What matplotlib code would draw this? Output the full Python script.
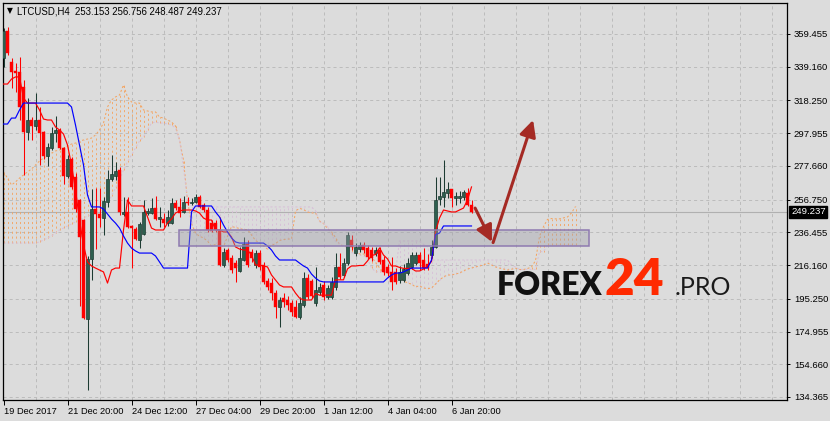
import matplotlib
matplotlib.use("Agg")
import matplotlib.pyplot as plt
import numpy as np
from matplotlib.patches import Rectangle

plt.rcParams['font.family'] = ['Liberation Sans', 'DejaVu Sans']
plt.rcParams['lines.scale_dashes'] = False

# ---------------- data ----------------
symbol = "LTCUSD,H4"
opens = [344.5, 361.3, 342.1, 336.5, 335.9, 326.6, 298.7, 306.1, 302.4, 306.1,
         298.7, 283.8, 288.7, 298.0, 299.9, 288.7, 271.4, 281.9, 270.8, 256.5,
         244.1, 182.7, 219.9, 250.9, 247.8, 245.3, 255.3, 269.5, 271.4, 275.1,
         247.8, 249.1, 240.4, 238.5, 231.7, 235.4, 248.4, 248.4, 251.5, 244.7,
         244.7, 242.2, 242.2, 254.6, 252.2, 249.1, 255.3, 254.6, 255.3, 258.4,
         253.4, 250.3, 242.2, 242.2, 237.9, 216.2, 225.5, 220.5, 217.4, 212.5,
         219.3, 229.2, 224.3, 216.2, 223.6, 216.2, 206.3, 205.0, 198.8, 190.2,
         195.7, 194.5, 192.6, 190.2, 184.0, 191.4, 208.1, 206.3, 192.6, 199.5,
         203.8, 196.4, 196.4, 202.6, 215.0, 210.0, 217.4, 231.7, 223.6, 226.1,
         228.6, 226.7, 225.5, 223.6, 225.5, 219.3, 215.0, 211.9, 211.9, 206.9,
         206.9, 211.2, 215.0, 217.4, 222.4, 219.0, 217.0, 222.4, 227.4, 257.1,
         258.4, 260.8, 263.3, 257.7, 257.7, 258.4, 260.8, 253.153]
highs = [363.1, 363.8, 344.5, 341.4, 345.2, 330.9, 319.7, 307.9, 322.8, 314.2,
         299.3, 291.8, 301.8, 308.6, 301.1, 289.4, 284.4, 283.2, 273.2, 257.0,
         245.0, 222.0, 263.3, 263.9, 263.9, 258.4, 275.1, 284.4, 280.1, 277.0,
         258.4, 258.4, 241.0, 239.8, 242.9, 256.5, 251.5, 257.7, 259.0, 252.2,
         248.4, 250.3, 257.7, 256.5, 257.7, 259.0, 258.4, 257.7, 260.2, 259.6,
         254.6, 252.2, 244.1, 244.1, 246.0, 226.7, 226.7, 222.4, 219.3, 227.4,
         233.6, 231.7, 226.1, 225.5, 225.5, 218.1, 208.1, 208.1, 200.7, 196.4,
         198.8, 197.0, 194.5, 194.5, 196.4, 211.9, 210.6, 207.5, 215.0, 205.0,
         206.3, 203.8, 208.7, 223.6, 223.6, 220.5, 236.7, 234.8, 229.8, 230.5,
         230.5, 228.6, 227.4, 227.4, 227.4, 221.8, 216.8, 221.2, 214.3, 215.6,
         216.8, 220.5, 224.3, 224.3, 224.3, 226.7, 223.2, 231.7, 270.8, 270.8,
         281.3, 267.7, 263.3, 261.5, 262.1, 262.7, 263.9, 256.756]
lows = [339.0, 346.4, 325.9, 323.5, 306.1, 272.0, 293.7, 293.7, 300.0, 278.2,
        282.0, 277.6, 287.5, 292.5, 288.0, 266.4, 270.0, 263.3, 249.0, 190.8,
        183.0, 138.7, 206.9, 226.1, 239.8, 234.8, 252.2, 268.3, 269.0, 247.2,
        246.6, 239.1, 214.3, 231.7, 226.7, 234.8, 247.2, 248.0, 244.1, 239.8,
        239.8, 240.4, 241.6, 250.3, 246.0, 248.4, 253.4, 253.4, 254.6, 251.5,
        249.1, 236.7, 236.7, 236.7, 215.6, 215.0, 218.1, 211.2, 205.7, 211.9,
        218.7, 215.0, 218.1, 214.3, 213.1, 204.4, 200.7, 194.5, 183.3, 177.8,
        190.2, 188.3, 184.6, 183.3, 182.7, 190.2, 195.1, 195.7, 190.8, 197.6,
        194.5, 195.1, 195.1, 200.7, 207.5, 208.7, 216.2, 225.5, 221.8, 224.3,
        223.6, 219.9, 218.7, 221.8, 216.8, 210.0, 209.4, 200.7, 204.4, 205.0,
        205.7, 210.0, 213.7, 216.2, 213.1, 213.1, 213.1, 220.5, 226.7, 253.4,
        252.2, 257.7, 252.2, 253.4, 254.6, 256.5, 252.8, 248.487]
closes = [361.3, 347.6, 335.9, 335.2, 314.2, 298.7, 306.1, 302.4, 306.1, 298.0,
          283.8, 289.4, 298.0, 299.9, 288.7, 271.4, 281.9, 264.6, 250.9, 233.6,
          183.3, 219.9, 250.9, 247.8, 245.3, 255.9, 269.5, 272.6, 274.5, 249.1,
          249.1, 239.8, 239.1, 232.3, 241.6, 249.1, 249.7, 251.5, 244.7, 246.0,
          242.2, 246.0, 254.6, 251.5, 248.4, 255.3, 254.6, 255.3, 258.4, 252.2,
          250.3, 237.9, 237.3, 237.9, 216.2, 224.3, 219.3, 213.1, 214.3, 220.5,
          229.2, 216.2, 220.5, 223.6, 215.0, 205.7, 202.6, 198.8, 190.2, 194.5,
          193.3, 191.4, 187.1, 184.0, 192.6, 208.1, 196.4, 197.0, 200.7, 202.6,
          196.4, 201.9, 205.7, 215.0, 208.7, 217.4, 234.8, 227.4, 227.4, 228.6,
          225.5, 221.2, 220.5, 225.5, 218.1, 211.9, 211.2, 205.7, 205.7, 211.9,
          213.7, 217.4, 222.4, 222.4, 217.4, 214.3, 214.3, 227.4, 256.5, 259.0,
          261.5, 263.3, 257.7, 259.0, 259.0, 261.5, 253.4, 249.237]

tenkan = [328.4, 328.4, 331.5, 332.8, 332.8, 319.7, 316.6, 316.6, 316.6, 312.3,
          306.7, 306.1, 306.1, 301.8, 299.9, 297.4, 290.6, 278.2, 262.7, 244.1,
          228.6, 218.1, 215.6, 214.3, 213.1, 211.9, 205.0, 213.1, 214.3, 214.3,
          237.9, 256.5, 252.8, 252.8, 252.8, 252.8, 246.0, 239.1, 237.9, 237.9,
          237.9, 242.2, 244.7, 248.4, 249.7, 250.3, 250.3, 250.3, 249.7, 248.4,
          245.3, 244.1, 244.1, 237.9, 237.9, 236.7, 236.7,
          233.6, 227.4, 226.1, 225.5, 225.5, 222.4, 216.2, 216.2, 215.6, 215.0,
          210.0, 206.9, 203.8, 202.6, 202.6, 202.6, 198.8, 195.7,
          194.5, 194.5, 194.5, 198.5, 197.5, 197.5, 197.5, 197.5, 207.0, 207.0,
          207.0, 213.8, 215.6, 215.6, 215.9, 215.9, 218.7, 222.1, 222.7, 226.8,
          222.4, 220.0, 215.6, 215.6, 214.7, 214.1, 214.1, 214.1, 212.5, 212.5,
          213.7, 215.6, 218.4,
          236.7, 245.3, 250.3, 249.7, 249.1, 249.1, 250.3, 251.5, 256.5, 264.6]
kijun = ([303.6, 303.6, 307.3, 307.3, 312.3, 316.6] + [316.6] * 11 +
         [314.2, 303.0, 290.6, 278.2,
          259.6, 252.2, 252.2, 252.2, 250.9, 247.8, 244.7, 242.2, 239.1,
          234.2, 229.8, 226.7, 224.9, 223.6, 223.6, 223.6, 223.6, 221.8, 218.1, 214.3] +
         [214.3] * 6 +
         [249.1, 252.8, 252.8, 252.8, 252.8, 252.8, 249.1, 246.0, 241.0, 236.7, 233.0, 230.5] +
         [229.8] * 7 +
         [228.0, 225.5, 221.8, 219.3, 219.3, 219.3, 219.3, 219.3, 217.4, 215.6, 214.3,
          210.6, 208.1, 206.3] +
         [205.7] * 16 +
         [208.1, 210.0, 211.2, 211.2, 211.9, 213.1, 214.3, 214.3, 214.3, 214.3, 214.3, 219.3,
          235.0, 236.0] + [240.4] * 8)
span_a = [273.9, 270.1, 265.8, 267.7, 270.1, 272.0, 273.9, 275.7, 278.2, 280.7,
          282.5, 283.8, 285.6, 286.9, 287.5, 288.7, 290.0, 291.2, 291.8, 293.1,
          293.7, 294.3, 294.9, 296.8, 299.9, 304.2, 314.2, 318.5, 320.4, 321.6,
          327.8, 320.4, 317.3, 316.6, 316.6, 312.3, 311.7, 311.1, 311.1, 307.9,
          307.3, 306.1, 304.9, 302.4, 293.7, 281.3,
          256.0, 242.0, 236.0, 234.0, 233.0, 231.0, 228.0, 229.0, 228.5, 227.5,
          234.0, 240.0, 239.5, 238.8, 238.2, 238.2, 234.8, 231.4, 229.9, 228.0,
          226.1, 228.3, 229.5, 231.4, 232.0, 232.3, 232.3, 249.7, 251.3, 250.6,
          249.0, 248.5, 248.5, 243.5, 242.0, 238.9, 236.7, 233.3, 229.0, 228.0,
          227.6, 227.7, 226.1, 223.0, 223.0, 222.7, 221.5, 217.8, 214.4, 211.6,
          211.0, 211.0, 211.0, 209.0, 206.6, 205.0, 204.4, 202.6, 203.3, 201.9,
          201.6, 201.9,
          204.4, 206.9, 208.8, 210.0, 210.0, 210.6, 211.2, 212.5, 213.7, 214.3,
          215.0, 215.6, 216.2, 217.4, 216.2, 215.0, 214.3, 213.7, 213.1, 213.6,
          214.2, 213.4, 213.4, 214.0, 215.0, 218.9, 234.0, 240.0, 244.5, 245.0,
          244.8, 244.8, 245.4, 246.0, 248.5, 252.5]
span_b = ([229.8] * 9 +
          [230.5, 231.7, 232.9, 234.2, 236.0, 237.9, 239.1, 240.4, 241.6, 242.9,
           244.1, 245.3, 246.6, 247.2, 248.4, 249.1, 251.5, 254.6, 259.0, 264.0,
           268.9, 275.1, 280.1, 284.4, 288.7, 293.1, 295.6, 299.9, 304.2, 304.9,
           304.2, 304.2, 303.6, 303.0, 301.1, 293.7, 276.3, 256.5, 253.4] +
          [252.2] * 30 +
          [250.0, 243.0, 242.0, 240.0, 235.0, 231.0, 229.5, 228.0, 226.5, 224.0,
           223.0, 222.5, 222.0, 220.0, 214.5, 212.0, 212.0, 212.0, 212.0, 212.0,
           212.0, 231.1, 231.1, 231.1, 231.1, 231.1, 231.1, 229.0, 227.4] +
          [219.3] * 20 +
          [216.2, 215.0, 213.5, 213.5, 213.5, 213.5, 213.5, 224.5, 224.5] +
          [228.5] * 8)

ytick_values = [134.365, 154.660, 174.955, 195.250, 216.160, 236.455,
                256.750, 277.660, 297.955, 318.250, 339.160, 359.455]
ytick_labels = ["134.365", "154.660", "174.955", "195.250", "216.160", "236.455",
                "256.750", "277.660", "297.955", "318.250", "339.160", "359.455"]
xtick_bars = [0, 16, 32, 48, 64, 80, 96, 112]
xtick_labels = ["19 Dec 2017", "21 Dec 20:00", "24 Dec 12:00", "27 Dec 04:00",
                "29 Dec 20:00", "1 Jan 12:00", "4 Jan 04:00", "6 Jan 20:00"]
zone_bars = (43.9, 146.4)
zone_prices = (228.0, 237.9)
arrow_down = ((117.9, 251.5), (122.1, 230.5))
arrow_up = ((122.4, 230.1), (132.4, 306.1))

# ---------------- figure ----------------
W, H = 830, 421
BG = '#dcdcdc'
fig = plt.figure(figsize=(W / 100, H / 100), dpi=100, facecolor=BG)
ax = fig.add_axes([2.5 / W, 21 / H, 784.5 / W, 397 / H], facecolor=BG)
ax.set_xlim(-0.25, 195.875)
ax.set_ylim(132.5, 378.64)

o = np.array(opens); h = np.array(highs); l = np.array(lows); c = np.array(closes)
x = np.arange(len(o))
up = c >= o

# grid
grid_kw = dict(color='#bcbcbc', linestyle=(0, (2.2, 2.2)), linewidth=0.72)
for yv in ytick_values:
    ax.axhline(yv, zorder=0.5, **grid_kw)
for xv in range(8, 196, 8):
    ax.axvline(xv, zorder=0.5, **grid_kw)

# bid line
ax.axhline(closes[-1], color='#b0b0b0', lw=0.8, zorder=1)

# Ichimoku cloud
sa = np.array(span_a); sb = np.array(span_b)
xs = np.arange(len(sa))
cloud_cols = ['#f4a460' if a >= b else '#d8bfd8' for a, b in zip(sa, sb)]
ax.vlines(xs, np.minimum(sa, sb), np.maximum(sa, sb), colors=cloud_cols,
          linestyles=[(0, (1.5, 2.0))], linewidth=0.7, alpha=0.9, zorder=2)
ax.plot(xs, sa, color='#f4a460', lw=0.72, ls=(0, (1.5, 1.5)), zorder=2.5)
ax.plot(np.arange(len(sb)), sb, color='#d8bfd8', lw=0.72, ls=(0, (1.5, 1.5)), zorder=2.5)

# candles
bull_face, bull_edge = '#2e5f4f', '#1d3b32'
bear = '#ff0000'
ax.vlines(x, l, h, colors=[bull_edge if u else bear for u in up], lw=0.75, zorder=4)
body_lo = np.minimum(o, c)
body_h = np.maximum(np.abs(c - o), 0.6)
ax.bar(x[up], body_h[up], bottom=body_lo[up], width=0.78, color=bull_face,
       edgecolor=bull_edge, linewidth=0.5, zorder=5)
ax.bar(x[~up], body_h[~up], bottom=body_lo[~up], width=0.78, color=bear,
       edgecolor=bear, linewidth=0.3, zorder=5)

# Tenkan / Kijun
ax.plot(np.arange(len(tenkan)), tenkan, color='#ff0000', lw=0.85, zorder=6)
ax.plot(np.arange(len(kijun)), kijun, color='#0000ff', lw=0.85, zorder=6)

# zone rectangle
ax.add_patch(Rectangle((zone_bars[0], zone_prices[0]), zone_bars[1] - zone_bars[0],
                       zone_prices[1] - zone_prices[0], facecolor=(0.62, 0.62, 0.66, 0.40),
                       edgecolor='#8e7ab0', linewidth=1.1, zorder=7))

# arrows
arrow_col = '#a52a24'
for (p0, p1) in (arrow_down, arrow_up):
    ax.annotate('', xy=p1, xytext=p0,
                arrowprops=dict(arrowstyle='-|>,head_length=0.9,head_width=0.45',
                                color=arrow_col, lw=2.2, mutation_scale=11,
                                shrinkA=0, shrinkB=0), zorder=8)

# axes styling
for sp in ax.spines.values():
    sp.set_color('black')
    sp.set_linewidth(0.9)
ax.yaxis.tick_right()
ax.set_yticks(ytick_values)
ax.set_yticklabels(ytick_labels)
ax.tick_params(axis='y', direction='out', length=2.5, width=0.7, pad=2.5,
               labelsize=6.8, colors='black')
ax.set_xticks(xtick_bars)
ax.set_xticklabels(xtick_labels)
ax.tick_params(axis='x', direction='out', length=3.5, width=0.7, pad=1.2,
               labelsize=6.7, colors='black')
for lbl in ax.get_xticklabels():
    lbl.set_ha('left')

# last price box
ax.annotate(f"{closes[-1]:.3f}", xy=(1, closes[-1]), xycoords=('axes fraction', 'data'),
            xytext=(4, 0), textcoords='offset pixels', ha='left', va='center',
            color='white', fontsize=6.8,
            bbox=dict(boxstyle='square,pad=0.18', fc='black', ec='black'),
            annotation_clip=False, zorder=10)

# header
fig.text(6.5 / W, 1 - 13.5 / H, '\u25BC', fontsize=5.5, family=['DejaVu Sans'],
         va='baseline', ha='left', color='black')
fig.text(17 / W, 1 - 14 / H,
         f"{symbol}  {opens[-1]:.3f} {highs[-1]:.3f} {lows[-1]:.3f} {closes[-1]:.3f}",
         fontsize=6.9, va='baseline', ha='left', color='black')

# watermark
base = 1 - 295 / H
fig.text(497 / W, base, 'FOREX', fontsize=23, family=['Lato', 'DejaVu Sans'],
         fontweight='heavy', color='#111111', va='baseline', ha='left')
fig.text(605 / W, base, '24', fontsize=37, family=['Lato', 'DejaVu Sans'],
         fontweight='heavy', color='#ff2a00', va='baseline', ha='left')
fig.text(675 / W, base, '.PRO', fontsize=18, family=['Lato', 'DejaVu Sans'],
         fontweight='normal', color='#1a1a1a', va='baseline', ha='left')

fig.savefig('out.png', dpi=100, facecolor=BG)
